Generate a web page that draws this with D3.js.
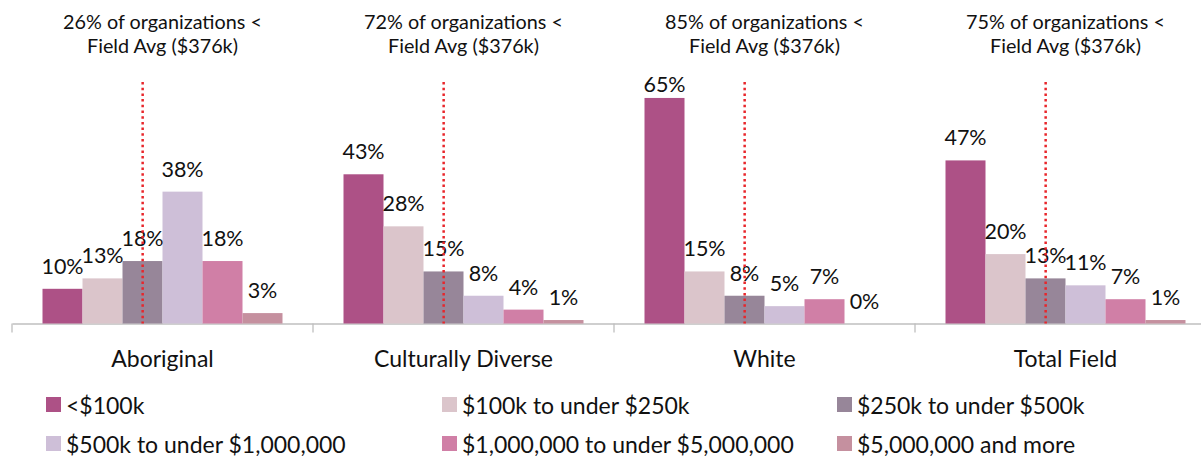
<!DOCTYPE html>
<html>
<head>
<meta charset="utf-8">
<script src="https://cdn.jsdelivr.net/npm/d3@7"></script>
<style>
  html, body { margin: 0; padding: 0; background: #fff; }
  svg { display: block; font-family: Lato, "Noto Sans", sans-serif; }
</style>
</head>
<body>
<svg id="chart" width="1201" height="456"></svg>
<script>
// Budget-size distribution of organizations by group
const groups = ["Aboriginal", "Culturally Diverse", "White", "Total Field"];
const bins = ["<$100k", "$100k to under $250k", "$250k to under $500k",
              "$500k to under $1,000,000", "$1,000,000 to under $5,000,000", "$5,000,000 and more"];
const colors = ["#ad5186", "#dbc5cb", "#978699", "#cebfd8", "#d07fa6", "#c5909f"];

const aboriginal = [10, 13, 18, 38, 18, 3];
const culturallyDiverse = [43, 28, 15, 8, 4, 1];
const white = [65, 15, 8, 5, 7, 0];
const totalField = [47, 20, 13, 11, 7, 1];
const seriesByGroup = [aboriginal, culturallyDiverse, white, totalField];

// share of organizations below the field average, per group
const belowAvgShare = [26, 72, 85, 75];
const fieldAvgLabel = "$376k";
// position of the field average inside the $250k-$500k bin (fraction of bin width)
const fieldAvgBin = 2;
const fieldAvgFrac = (376 - 250) / 250;

const svg = d3.select("#chart");

const x0 = d3.scaleBand().domain(groups).range([12, 1216]).paddingInner(0).paddingOuter(0);
const x1 = d3.scaleBand().domain(d3.range(bins.length))
  .range([0, x0.bandwidth()]).paddingInner(0).paddingOuter(0.7625);
const y = d3.scaleLinear().domain([0, 70]).range([323.5, 80.6]);

// axis with group separators
const axis = d3.axisBottom(x0).tickSize(0).tickFormat("");
const axisG = svg.append("g").attr("transform", `translate(0,${y(0)})`).call(axis);
axisG.select(".domain").attr("stroke", "#bfbfbf").attr("stroke-width", 1.3);
const seps = groups.map(g => x0(g)).concat([x0.range()[1]]);
svg.append("g").selectAll("line").data(seps).join("line")
  .attr("x1", d => d).attr("x2", d => d)
  .attr("y1", y(0)).attr("y2", y(0) + 9)
  .attr("stroke", "#bfbfbf").attr("stroke-width", 1.3);

// bars
const gGroups = svg.append("g").selectAll("g").data(groups).join("g")
  .attr("transform", g => `translate(${x0(g)},0)`);

gGroups.selectAll("rect").data((g, gi) => seriesByGroup[gi].map((v, i) => ({v, i})))
  .join("rect")
  .attr("x", d => x1(d.i))
  .attr("width", x1.bandwidth())
  .attr("y", d => y(d.v))
  .attr("height", d => y(0) - y(d.v))
  .attr("fill", d => colors[d.i]);

// value labels (kept inside the plot area at the top)
gGroups.selectAll("text.val").data((g, gi) => seriesByGroup[gi].map((v, i) => ({v, i})))
  .join("text").attr("class", "val")
  .attr("x", d => x1(d.i) + x1.bandwidth() / 2)
  .attr("y", d => Math.max(y(d.v) - 15, 92))
  .attr("text-anchor", "middle")
  .attr("font-size", 21.5)
  .attr("fill", "#111")
  .text(d => d.v + "%");

// field average marker lines
gGroups.append("line")
  .attr("x1", x1(fieldAvgBin) + x1.bandwidth() * fieldAvgFrac)
  .attr("x2", x1(fieldAvgBin) + x1.bandwidth() * fieldAvgFrac)
  .attr("y1", 82).attr("y2", y(0))
  .attr("stroke", "#e8262b").attr("stroke-width", 2.5)
  .attr("stroke-dasharray", "2.5,3.2");

// notes above each group
gGroups.each(function(g, gi) {
  const t = d3.select(this).append("text")
    .attr("text-anchor", "middle")
    .attr("font-size", 19.8)
    .attr("fill", "#111");
  t.append("tspan").attr("x", x0.bandwidth() / 2).attr("y", 29)
    .text(`${belowAvgShare[gi]}% of organizations <`);
  t.append("tspan").attr("x", x0.bandwidth() / 2).attr("y", 53)
    .text(`Field Avg (${fieldAvgLabel})`);
});

// category labels
gGroups.append("text")
  .attr("x", x0.bandwidth() / 2)
  .attr("y", 367)
  .attr("text-anchor", "middle")
  .attr("font-size", 23)
  .attr("fill", "#111")
  .text(g => g);

// legend
const legendCols = [46, 442, 837];
const legendRows = [397, 436];
const legend = svg.append("g").selectAll("g").data(bins).join("g")
  .attr("transform", (d, i) => `translate(${legendCols[i % 3]},${legendRows[Math.floor(i / 3)]})`);
legend.append("rect").attr("x", 0).attr("y", 0).attr("width", 15).attr("height", 15)
  .attr("fill", (d, i) => colors[i]);
legend.append("text").attr("x", 20).attr("y", 16.5)
  .attr("font-size", 23).attr("fill", "#111")
  .text(d => d);
</script>
</body>
</html>
